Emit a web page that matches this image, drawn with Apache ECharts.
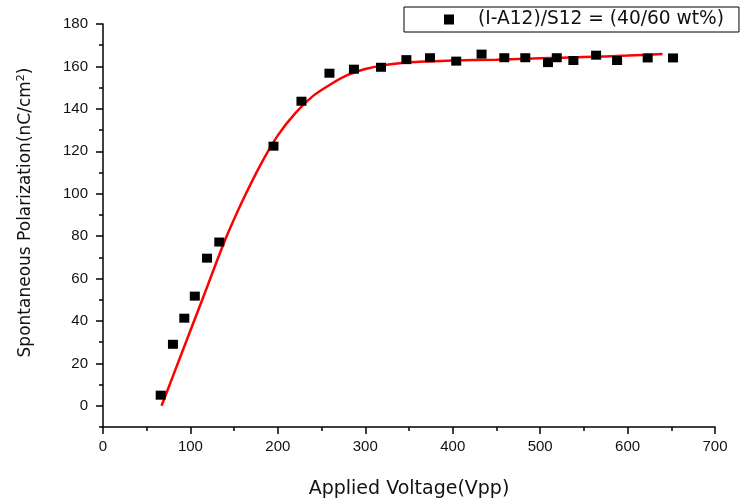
<!DOCTYPE html>
<html>
<head>
<meta charset="utf-8">
<script src="https://cdn.jsdelivr.net/npm/echarts@6/dist/echarts.min.js"></script>
<style>html,body{margin:0;padding:0;background:#fff;}#c{width:742px;height:499px;}</style>
</head>
<body>
<div id="c"></div>
<script>
// Measured data points
var voltage = [66, 80, 93, 105, 119, 133, 195, 227, 259, 287, 318, 347, 374, 404, 433, 459, 483, 509, 519, 538, 564, 588, 623, 652];
var polarization = [5, 29, 41.3, 51.7, 69.6, 77.2, 122.4, 143.6, 156.8, 158.7, 159.6, 163.2, 164.1, 162.5, 165.8, 164.1, 164.1, 161.8, 164.1, 162.8, 165.3, 162.8, 164, 164];
// Fitted curve
var fitX = [67, 80, 100, 120, 140, 160, 180, 200, 220, 240, 260, 280, 300, 320, 350, 400, 450, 500, 550, 600, 640];
var fitY = [0, 14, 35.5, 57, 78.5, 97, 113.5, 127.5, 138, 146, 151.5, 156, 158.8, 160.5, 162, 162.8, 163.2, 163.8, 164.4, 165.1, 165.8];
var xTicks = [0, 100, 200, 300, 400, 500, 600, 700];
var yMajor = [0, 20, 40, 60, 80, 100, 120, 140, 160, 180];
var yMinor = [-10, 10, 30, 50, 70, 90, 110, 130, 150, 170];
var seriesName = '(I-A12)/S12 = (40/60 wt%)';

var scatterData = voltage.map(function (v, i) { return [v, polarization[i]]; });
var fitData = fitX.map(function (v, i) { return [v, fitY[i]]; });

var chart = echarts.init(document.getElementById('c'), null, {renderer: 'canvas'});
var labelFont = {color: '#111', fontFamily: 'Liberation Sans, Arial, sans-serif', fontSize: 15};
chart.setOption({
  animation: false,
  backgroundColor: '#fff',
  grid: {left: 103, right: 27, top: 24, bottom: 72, containLabel: false, outerBoundsMode: 'none'},
  legend: {
    data: [seriesName],
    left: 404, top: 7,
    padding: [3, 15, 3, 40],
    borderColor: '#000', borderWidth: 1, borderRadius: 0,
    itemWidth: 10, itemHeight: 10,
    itemStyle: {color: '#000', opacity: 1},
    textStyle: {color: '#111', fontFamily: 'DejaVu Sans, sans-serif', fontSize: 18.6, padding: [0, 0, 0, 19]}
  },
  xAxis: {
    type: 'value', min: 0, max: 700, interval: 100,
    name: 'Applied Voltage(Vpp)', nameLocation: 'middle', nameGap: 53,
    nameTextStyle: {color: '#111', fontFamily: 'DejaVu Sans, sans-serif', fontSize: 19},
    axisLine: {onZero: false, lineStyle: {color: '#000', width: 1.5}},
    axisTick: {show: true, inside: false, length: 7, lineStyle: {color: '#000', width: 1.5}},
    minorTick: {show: true, splitNumber: 2, length: 4, lineStyle: {color: '#000', width: 1.5}},
    axisLabel: Object.assign({margin: 12, customValues: xTicks}, labelFont),
    splitLine: {show: false}
  },
  yAxis: [{
    type: 'value', min: -10, max: 180, interval: 10,
    name: 'Spontaneous Polarization(nC/cm{sup|2})', nameLocation: 'middle', nameGap: 68,
    nameTextStyle: {color: '#111', fontFamily: 'DejaVu Sans, sans-serif', fontSize: 17, padding: [0, 0, 0, 26],
      rich: {sup: {fontSize: 11, fontFamily: 'DejaVu Sans, sans-serif', color: '#111', verticalAlign: 'top', padding: [0, 0, 8, 0]}}},
    axisLine: {show: true, onZero: false, lineStyle: {color: '#000', width: 1.5}},
    axisTick: {show: true, length: 7, customValues: yMajor, lineStyle: {color: '#000', width: 1.5}},
    axisLabel: Object.assign({margin: 15, customValues: yMajor}, labelFont),
    splitLine: {show: false}
  }, {
    type: 'value', min: -10, max: 180, interval: 10, position: 'left',
    axisLine: {show: false},
    axisTick: {show: true, length: 4, customValues: yMinor, lineStyle: {color: '#000', width: 1.5}},
    axisLabel: {show: false},
    splitLine: {show: false}
  }],
  series: [{
    name: seriesName, type: 'scatter', symbol: 'rect', symbolSize: [10, 9],
    itemStyle: {color: '#000', opacity: 1}, data: scatterData, z: 3
  }, {
    name: 'fit', type: 'line', showSymbol: false, smooth: 0.3,
    lineStyle: {color: '#ff0000', width: 2.5}, data: fitData, z: 2
  }]
});
</script>
</body>
</html>
